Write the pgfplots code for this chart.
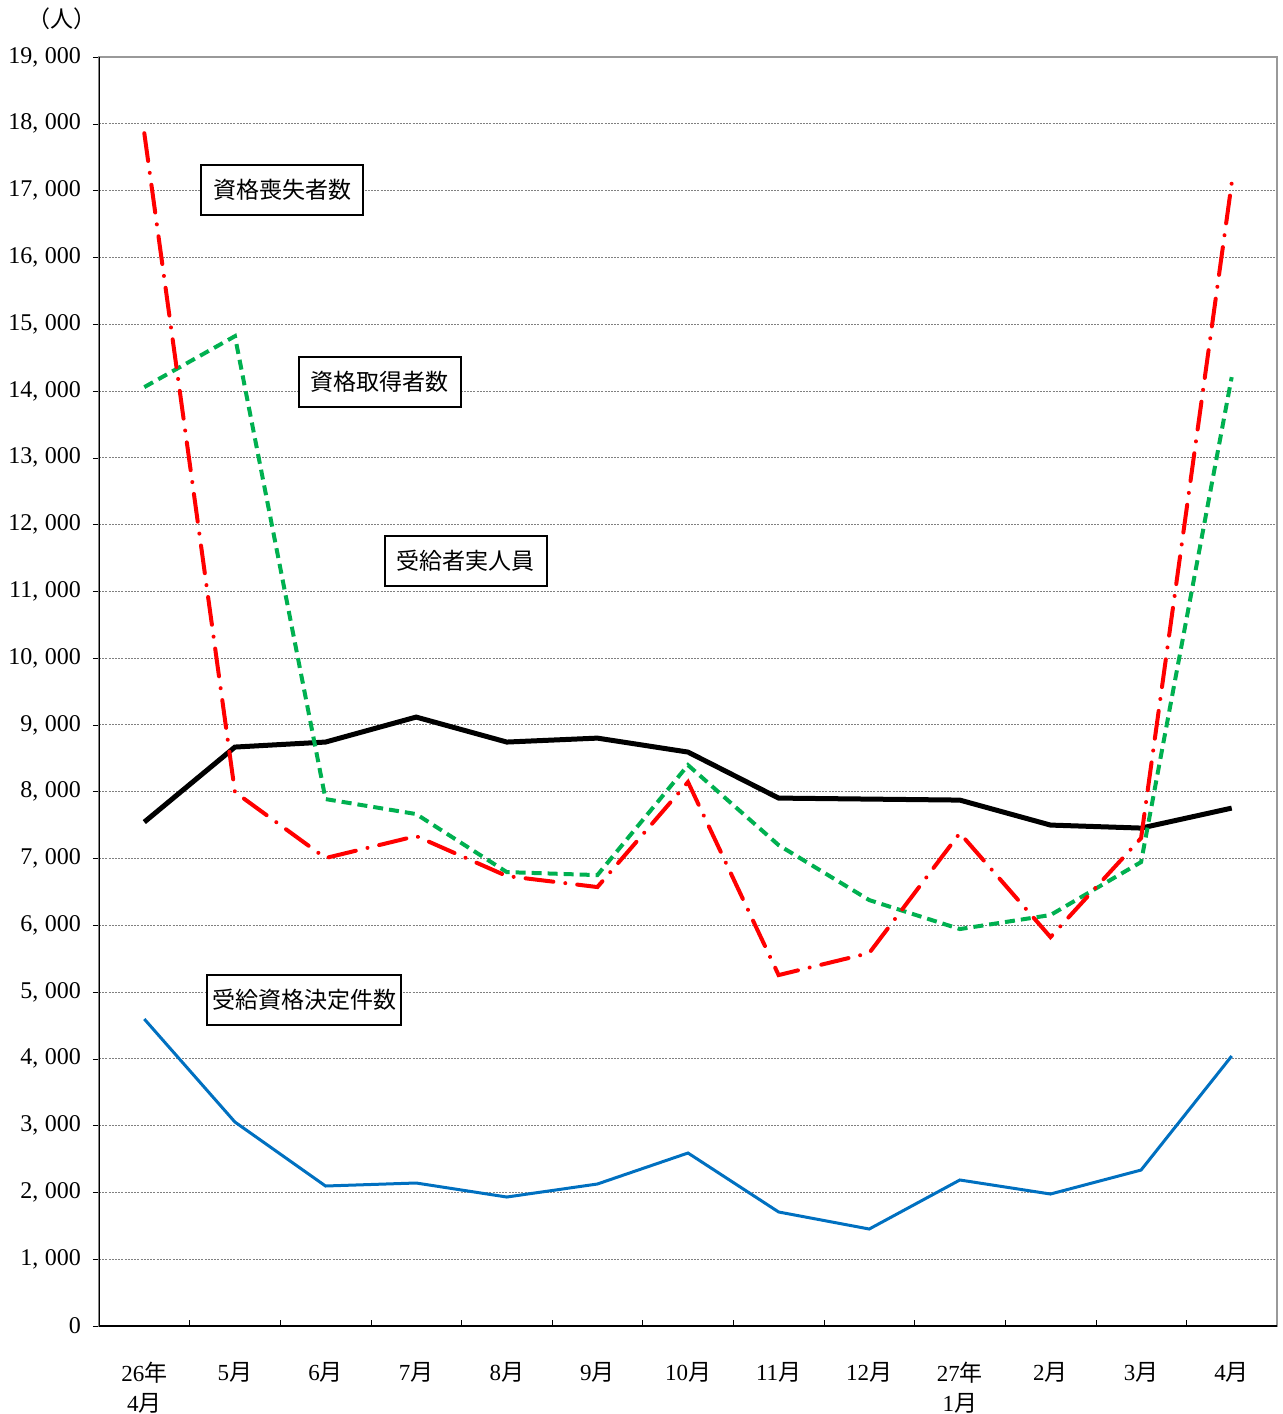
\documentclass[border=0pt]{standalone}
\usepackage{pgfplots}
\pgfplotsset{compat=1.18}
\usepackage{fontspec}
\setmainfont{Liberation Serif}
\newfontfamily\jp{Noto Sans CJK JP}
\newcommand{\J}[1]{{\jp #1}}
\definecolor{xlgreen}{RGB}{0,176,80}
\definecolor{xlblue}{RGB}{0,112,192}
\definecolor{xlred}{RGB}{255,0,0}
\begin{document}
\begin{tikzpicture}
\useasboundingbox (-49.5pt,-44pt) rectangle (592pt,663pt);
\begin{axis}[
    at={(0,0)}, anchor=south west,
    scale only axis,
    width=589pt, height=634.5pt,
    xmin=-0.5, xmax=12.5,
    ymin=0, ymax=19000,
    ytick distance=1000,
    scaled y ticks=false,
    xtick={0,...,12},
    xticklabels={{26\J{年}\\4\J{月}},{5\J{月}},{6\J{月}},{7\J{月}},{8\J{月}},{9\J{月}},{10\J{月}},{11\J{月}},{12\J{月}},{27\J{年}\\1\J{月}},{2\J{月}},{3\J{月}},{4\J{月}}},
    minor xtick={0.5,1.5,...,11.5},
    major x tick style={draw=none},
    minor x tick style={yshift=3pt, black},
    ytick style={black},
    tick align=outside,
    major tick length=3pt,
    minor tick length=3pt,
    xtick pos=bottom, ytick pos=left,
    ymajorgrids,
    grid style={gray, line width=0.4pt, dash pattern=on 1pt off 0.6pt},
    axis line style={gray!80, line width=0.8pt},
    xticklabel style={align=center, font=\fontsize{11.5}{15}\selectfont, yshift=-11.5pt},
    yticklabel style={font=\fontsize{12}{13}\selectfont, xshift=-2.5pt},
    /pgf/number format/.cd, 1000 sep={,\;}, assume math mode=true,
]
% 受給者実人員
\addplot[black, line width=2.5pt] table {
x y
0 7545
1 8668
2 8743
3 9117
4 8743
5 8802
6 8593
7 7904
8 7889
9 7874
10 7500
11 7455
12 7754
};
% 資格取得者数
\addplot[xlgreen, line width=2pt, dash pattern=on 5pt off 3pt] table {
x y
0 14057
1 14820
2 7889
3 7665
4 6796
5 6751
6 8398
7 7200
8 6377
9 5943
10 6153
11 6946
12 14207
};
% 資格喪失者数
\addplot[xlred, line width=2pt, line cap=round, dash pattern=on 14pt off 6pt on 0.01pt off 6pt] table {
x y
0 17859
1 7994
2 7006
3 7335
4 6737
5 6572
6 8144
7 5254
8 5584
9 7380
10 5823
11 7305
12 17111
};
% 受給資格決定件数
\addplot[xlblue, line width=1.5pt] table {
x y
0 4596
1 3054
2 2096
3 2141
4 1931
5 2126
6 2590
7 1707
8 1452
9 2186
10 1976
11 2335
12 4042
};
\tikzset{lbl/.style={draw=black, line width=1pt, fill=white, font=\fontsize{11.5}{13}\selectfont\jp, minimum height=25pt, inner ysep=2pt}}
\node[lbl, minimum width=81pt] at (axis cs:1.52,17006) {資格喪失者数};
\node[lbl, minimum width=81pt] at (axis cs:2.6,14132) {資格取得者数};
\node[lbl, minimum width=81pt] at (axis cs:3.55,11460) {受給者実人員};
\node[lbl, minimum width=97pt, inner xsep=1pt] at (axis cs:1.763,4880) {受給資格決定件数};
\draw[black, line width=1pt] (rel axis cs:0,1) -- (rel axis cs:0,0) -- (rel axis cs:1,0);
\end{axis}
\node[font=\fontsize{11.5}{13}\selectfont\jp] at (-18.5pt,653.5pt) {（人）};
\end{tikzpicture}
\end{document}
